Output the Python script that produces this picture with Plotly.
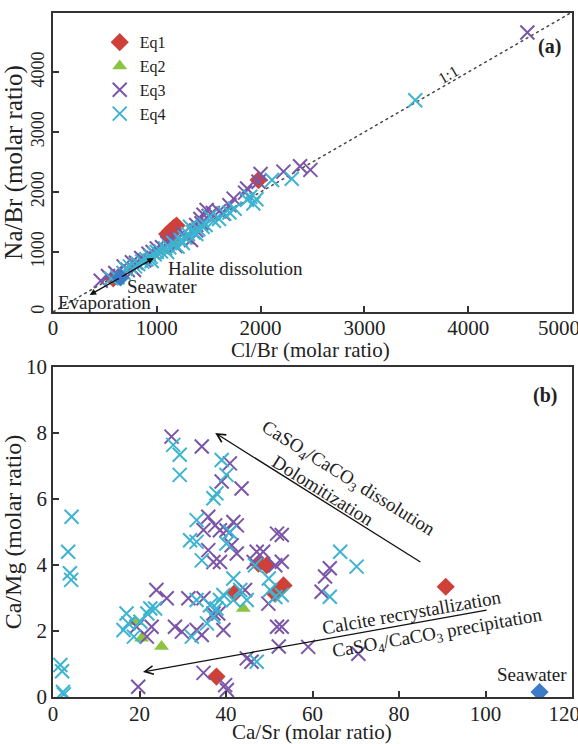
import plotly.graph_objects as go

# ---------------- Panel (a): Cl/Br vs Na/Br ----------------
a_eq1_cl = [580, 640, 1100, 1130, 1160, 1190, 1980]
a_eq1_na = [560, 600, 1300, 1350, 1400, 1440, 2200]

a_eq2_cl = [870, 960, 1050, 1200]
a_eq2_na = [880, 950, 1040, 1180]

a_eq3_cl = [460, 530, 600, 680, 720, 760, 800, 850, 880, 920, 960, 1000, 1050, 1100, 1150,
            1200, 1250, 1290, 1330, 1380, 1420, 1450, 1480, 1500, 1540, 1600, 1640, 1700,
            1740, 1850, 1870, 1980, 2000, 2220, 2380, 2480, 4570, 780, 1180, 1380, 1430]
a_eq3_na = [520, 600, 650, 760, 700, 830, 820, 900, 860, 970, 1000, 1060, 1080, 1150, 1200,
            1230, 1300, 1250, 1200, 1450, 1550, 1620, 1700, 1600, 1650, 1680, 1640, 1780,
            1890, 1990, 2060, 2170, 2300, 2340, 2430, 2370, 4660, 700, 1100, 1360, 1480]

a_eq4_cl = [560, 620, 680, 700, 740, 790, 820, 860, 900, 940, 980, 1000, 1040, 1080, 1120,
            1160, 1200, 1230, 1270, 1300, 1320, 1350, 1400, 1440, 1470, 1510, 1550, 1600,
            1650, 1700, 1750, 1870, 1900, 1930, 1960, 2110, 2300, 3490, 1100, 1250, 1380, 950]
a_eq4_na = [560, 580, 650, 720, 760, 760, 800, 840, 880, 920, 960, 1000, 1010, 1060, 1080,
            1150, 1090, 1200, 1240, 1300, 1420, 1330, 1380, 1420, 1450, 1590, 1520, 1550,
            1640, 1660, 1720, 1870, 1920, 1810, 1880, 2200, 2220, 3530, 1000, 1150, 1300, 850]

a_sea_cl = [650]
a_sea_na = [575]

one_to_one = [0, 5000]

a_xticks = [0, 1000, 2000, 3000, 4000, 5000]
a_xticktext = ["0", "1000", "2000", "3000", "4000", "5000"]
a_yticks = [0, 1000, 2000, 3000, 4000]

# ---------------- Panel (b): Ca/Sr vs Ca/Mg ----------------
b_eq1_sr = [37.8, 42.0, 47.5, 49.4, 51.3, 53.3, 90.8]
b_eq1_mg = [0.62, 3.15, 4.04, 3.99, 3.13, 3.38, 3.34]

b_eq2_sr = [19.0, 20.5, 25.1, 44.0]
b_eq2_mg = [2.28, 1.78, 1.53, 2.68]

b_eq3_sr = [19.3, 21.7, 22.8, 23.9, 26.3, 19.7, 28.2, 29.8, 31.3, 33.2, 34.4, 34.8, 37.1,
            39.4, 39.8, 40.2, 44.8, 45.9, 27.4, 34.4, 40.9, 39.0, 43.6, 35.9, 34.8, 35.9,
            37.5, 38.6, 40.1, 41.7, 42.5, 41.3, 38.6, 42.5, 37.1, 47.1, 48.6, 46.4, 51.8,
            51.4, 49.8, 34.8, 38.2, 44.4, 51.8, 52.2, 52.9, 52.9, 52.9, 59.0, 70.6, 64.0,
            62.9, 62.1]
b_eq3_mg = [2.13, 1.83, 2.13, 3.24, 2.99, 0.31, 2.13, 1.98, 2.99, 2.03, 1.88, 0.73, 2.53,
            2.03, 0.36, 0.21, 1.17, 1.07, 7.89, 7.59, 7.08, 6.53, 6.32, 5.46, 5.06, 4.45,
            5.20, 5.05, 5.05, 5.30, 5.20, 4.60, 4.09, 4.35, 4.09, 4.40, 4.40, 4.09, 4.95,
            3.99, 2.83, 2.99, 2.53, 3.24, 2.13, 1.53, 4.91, 4.10, 2.13, 1.52, 1.31, 3.90,
            3.65, 3.19]

b_eq4_sr = [4.3, 3.5, 3.9, 4.2, 1.7, 2.1, 2.3, 2.5, 16.3, 17.4, 17.0, 18.7, 20.2, 21.8,
            22.5, 23.6, 32.1, 47.1, 27.8, 29.3, 29.3, 39.0, 40.1, 37.8, 37.1, 33.2, 31.7,
            33.2, 34.4, 40.9, 40.1, 41.7, 46.7, 49.9, 50.2, 51.4, 33.2, 36.3, 37.8, 38.6,
            39.4, 41.7, 43.3, 44.8, 35.6, 37.1, 52.9, 66.4, 70.2, 64.0]
b_eq4_mg = [5.46, 4.40, 3.75, 3.55, 0.97, 0.78, 0.15, 0.08, 2.03, 2.23, 2.53, 1.83, 2.28,
            2.53, 2.68, 2.68, 1.83, 1.07, 7.64, 7.34, 6.73, 7.18, 6.73, 6.17, 6.02, 5.36,
            4.75, 4.70, 4.14, 5.00, 4.65, 3.59, 3.99, 3.59, 3.24, 3.03, 2.94, 2.78, 2.68,
            2.94, 3.09, 2.94, 3.24, 2.94, 2.23, 2.43, 3.09, 4.40, 3.95, 3.04]

b_sea_sr = [112.5]
b_sea_mg = [0.15]

b_xticks = [0, 20, 40, 60, 80, 100, 120]
b_xticktext = ["0", "20", "40", "60", "80", "100", "120"]
b_yticks = [0, 2, 4, 6, 8, 10]

# ---------------- styling ----------------
RED = "#cf4038"
GREEN = "#8cc43f"
PURPLE = "#7b55a8"
CYAN = "#3db4d0"
BLUE = "#3c7bc8"
AXC = "#333333"
FONT = "Liberation Serif"
TXT = "#222222"
NB = "\u00a0"

fig = go.Figure()


def add_sets(xref, yref, data, legend):
    names = ["Eq1", "Eq2", "Eq3", "Eq4"]
    for name, (xs, ys) in zip(names, data):
        if name == "Eq1":
            marker = dict(symbol="diamond", size=14, color=RED, line=dict(width=0))
        elif name == "Eq2":
            marker = dict(symbol="triangle-up", size=13, color=GREEN, line=dict(width=0))
        elif name == "Eq3":
            marker = dict(symbol="x-thin", size=14, color=PURPLE,
                          line=dict(width=2, color=PURPLE))
        else:
            marker = dict(symbol="x-thin", size=14, color=CYAN,
                          line=dict(width=2, color=CYAN))
        fig.add_trace(go.Scatter(x=xs, y=ys, mode="markers", name=name, marker=marker,
                                 xaxis=xref, yaxis=yref, showlegend=legend))


# panel (a)
fig.add_trace(go.Scatter(x=one_to_one, y=one_to_one, mode="lines",
                         line=dict(color="#444444", width=1.5, dash="dot"),
                         xaxis="x", yaxis="y", showlegend=False, hoverinfo="skip"))
add_sets("x", "y", [(a_eq1_cl, a_eq1_na), (a_eq2_cl, a_eq2_na),
                    (a_eq3_cl, a_eq3_na), (a_eq4_cl, a_eq4_na)], True)
fig.add_trace(go.Scatter(x=a_sea_cl, y=a_sea_na, mode="markers",
                         marker=dict(symbol="diamond", size=14, color=BLUE),
                         xaxis="x", yaxis="y", showlegend=False))

# panel (b)
add_sets("x2", "y2", [(b_eq1_sr, b_eq1_mg), (b_eq2_sr, b_eq2_mg),
                      (b_eq3_sr, b_eq3_mg), (b_eq4_sr, b_eq4_mg)], False)
fig.add_trace(go.Scatter(x=b_sea_sr, y=b_sea_mg, mode="markers",
                         marker=dict(symbol="diamond", size=14, color=BLUE),
                         xaxis="x2", yaxis="y2", showlegend=False))


def axis_common(tsize=21, standoff=0):
    return dict(showline=True, linecolor=AXC, linewidth=1.5, mirror=True,
                ticks="inside", ticklen=6, tickwidth=1.5, tickcolor=AXC,
                showgrid=False, zeroline=False, ticklabeloverflow="allow",
                automargin=False, ticklabelstandoff=standoff,
                tickfont=dict(family=FONT, size=tsize, color=TXT))


# last tick label on each x axis is shifted left so it stays inside the page, as in the original
a_xtext = a_xticktext[:-1] + [a_xticktext[-1] + NB * 5]
b_xtext = b_xticktext[:-1] + [b_xticktext[-1] + NB * 3]

fig.update_layout(
    width=578, height=744,
    margin=dict(l=53, r=6, t=13, b=47, autoexpand=False),
    paper_bgcolor="white", plot_bgcolor="white",
    font=dict(family=FONT, color=TXT),
    showlegend=True,
    legend=dict(x=0.09, y=0.982, xanchor="left", yanchor="top",
                bgcolor="rgba(0,0,0,0)", font=dict(family=FONT, size=16, color=TXT),
                tracegroupgap=0),
    xaxis=dict(domain=[0, 1], anchor="y", range=[0, 5000], tickvals=a_xticks, ticktext=a_xtext,
               **axis_common(21, -4)),
    yaxis=dict(domain=[0.5629, 1], anchor="x", range=[0, 4985], tickvals=a_yticks,
               tickangle=-90,
               title=dict(text="Na/Br (molar ratio)", font=dict(family=FONT, size=25, color=TXT), standoff=2),
               **axis_common(18)),
    xaxis2=dict(domain=[0, 1], anchor="y2", range=[0, 120], tickvals=b_xticks, ticktext=b_xtext,
                **axis_common(21, -3)),
    yaxis2=dict(domain=[0, 0.4825], anchor="x2", range=[0, 10], tickvals=b_yticks,
                title=dict(text="Ca/Mg (molar ratio)", font=dict(family=FONT, size=24, color=TXT), standoff=4),
                **axis_common()),
)

ann = []
tf = dict(family=FONT, size=19, color=TXT)
titlef = dict(family=FONT, size=21, color=TXT)
# x-axis titles (placed in paper coordinates below each panel)
ann.append(dict(x=(310 - 53) / 519, y=(697 - 350) / 684, xref="paper", yref="paper",
                xanchor="center", yanchor="middle",
                text="Cl/Br (molar ratio)", showarrow=False, font=titlef))
ann.append(dict(x=(312 - 53) / 519, y=(697 - 732) / 684, xref="paper", yref="paper",
                xanchor="center", yanchor="middle",
                text="Ca/Sr (molar ratio)", showarrow=False, font=titlef))
# panel (a) labels
ann.append(dict(x=4780, y=4430, xref="x", yref="y", text="<b>(a)</b>", showarrow=False,
                font=dict(family=FONT, size=20, color=TXT)))
ann.append(dict(x=3810, y=3960, xref="x", yref="y", text="1:1", showarrow=False,
                textangle=-30, font=dict(family=FONT, size=16, color=TXT)))
ann.append(dict(x=1754, y=733, xref="x", yref="y", text="Halite dissolution", showarrow=False, font=tf))
ann.append(dict(x=1048, y=420, xref="x", yref="y", text="Seawater", showarrow=False, font=tf))
ann.append(dict(x=498, y=160, xref="x", yref="y", text="Evaporation", showarrow=False, font=tf))
# arrows (a)
ann.append(dict(x=971, y=900, ax=a_sea_cl[0], ay=a_sea_na[0], xref="x", yref="y", axref="x", ayref="y",
                text="", showarrow=True, arrowhead=2, arrowsize=1, arrowwidth=1.3, arrowcolor="#111"))
ann.append(dict(x=353, y=283, ax=a_sea_cl[0], ay=a_sea_na[0], xref="x", yref="y", axref="x", ayref="y",
                text="", showarrow=True, arrowhead=2, arrowsize=1, arrowwidth=1.3, arrowcolor="#111"))

# panel (b) labels
ann.append(dict(x=113.8, y=9.15, xref="x2", yref="y2", text="<b>(b)</b>", showarrow=False,
                font=dict(family=FONT, size=20, color=TXT)))
ann.append(dict(x=37.5, y=8.0, ax=85.3, ay=4.06, xref="x2", yref="y2", axref="x2", ayref="y2",
                text="", showarrow=True, arrowhead=5, arrowsize=1.3, arrowwidth=1.3, arrowcolor="#111"))
ann.append(dict(x=20.8, y=0.76, ax=100.6, ay=2.64, xref="x2", yref="y2", axref="x2", ayref="y2",
                text="", showarrow=True, arrowhead=5, arrowsize=1.3, arrowwidth=1.3, arrowcolor="#111"))
ann.append(dict(x=(348 - 53) / 4.325, y=(697 - 479) / 33, xref="x2", yref="y2",
                text="CaSO<sub>4</sub>/CaCO<sub>3</sub> dissolution", showarrow=False,
                textangle=32, font=tf))
ann.append(dict(x=(323 - 53) / 4.325, y=(697 - 491) / 33, xref="x2", yref="y2",
                text="Dolomitization", showarrow=False, textangle=32, font=tf))
ann.append(dict(x=(411 - 53) / 4.325, y=(697 - 613) / 33, xref="x2", yref="y2",
                text="Calcite recrystallization", showarrow=False, textangle=-10, font=tf))
ann.append(dict(x=(437 - 53) / 4.325, y=(697 - 634) / 33, xref="x2", yref="y2",
                text="CaSO<sub>4</sub>/CaCO<sub>3</sub> precipitation", showarrow=False,
                textangle=-10, font=tf))
ann.append(dict(x=110.8, y=0.67, xref="x2", yref="y2", text="Seawater", showarrow=False, font=tf))

fig.update_layout(annotations=ann)
fig.write_html("out.html")
